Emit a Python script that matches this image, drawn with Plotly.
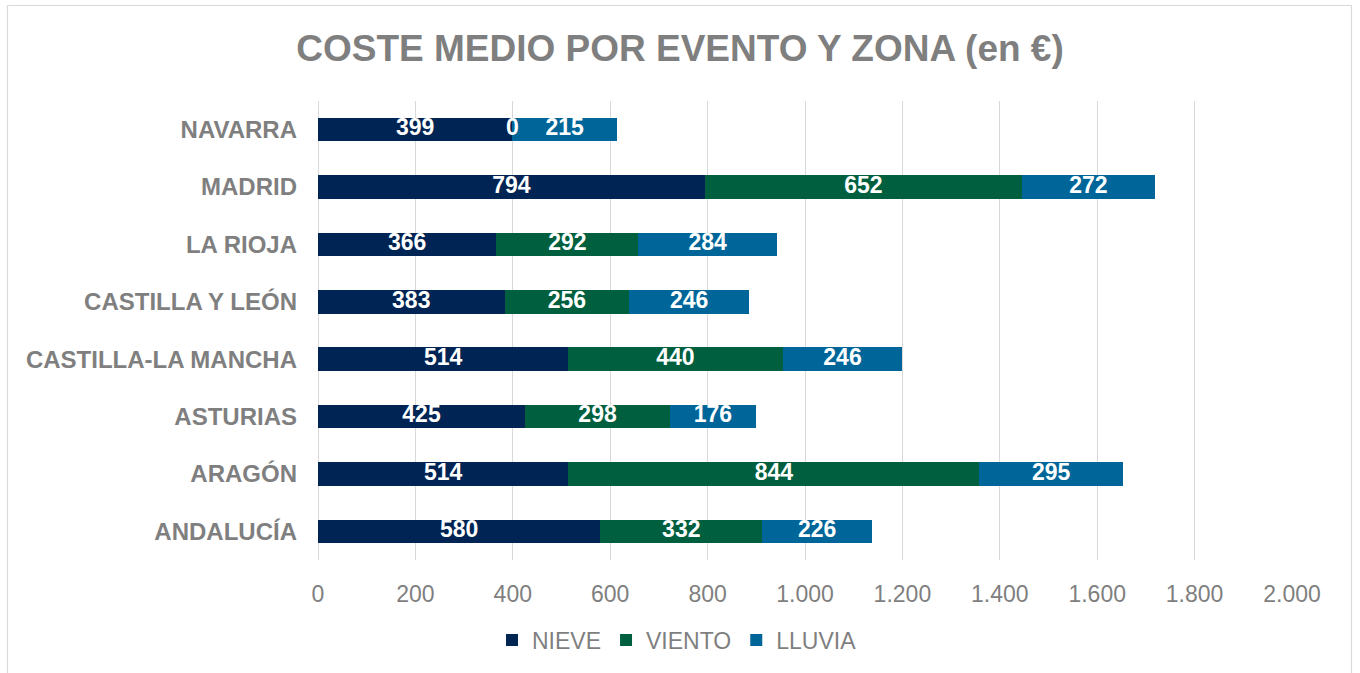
import plotly.graph_objects as go

categories = ["ANDALUCÍA", "ARAGÓN", "ASTURIAS", "CASTILLA-LA MANCHA",
              "CASTILLA Y LEÓN", "LA RIOJA", "MADRID", "NAVARRA"]
nieve = [580, 514, 425, 514, 383, 366, 794, 399]
viento = [332, 844, 298, 440, 256, 292, 652, 0]
lluvia = [226, 295, 176, 246, 246, 284, 272, 215]
x_ticks = [0, 200, 400, 600, 800, 1000, 1200, 1400, 1600, 1800, 2000]
x_tick_labels = ["0", "200", "400", "600", "800", "1.000", "1.200",
                 "1.400", "1.600", "1.800", "2.000"]

series = [("NIEVE", nieve, "#002453"),
          ("VIENTO", viento, "#005F3F"),
          ("LLUVIA", lluvia, "#006699")]

FONT = "Liberation Sans, Arial, sans-serif"
GREY = "#7f7f7f"

fig = go.Figure()
for name, vals, color in series:
    fig.add_trace(go.Bar(
        y=categories, x=vals, name=name, orientation="h",
        marker=dict(color=color, line=dict(width=0)),
        width=0.41,
    ))

# data labels at the middle of each segment
base = [0] * len(categories)
for name, vals, color in series:
    mids = [b + v / 2 for b, v in zip(base, vals)]
    fig.add_trace(go.Scatter(
        y=categories, x=mids, mode="text",
        text=[str(v) for v in vals],
        textposition="middle center",
        textfont=dict(family=FONT, size=23, color="white", weight="bold"),
        showlegend=False, hoverinfo="skip", cliponaxis=False,
    ))
    base = [b + v for b, v in zip(base, vals)]

W, H = 1360, 673
L, R, T, B = 318, 1292, 101, 560
pw, ph = R - L, B - T

def px(x):
    return (x - L) / pw

def py(y):
    return (B - y) / ph

fig.add_shape(type="rect", xref="paper", yref="paper",
              x0=px(7.5), x1=px(1351.5), y0=py(700), y1=py(5.5),
              line=dict(color="#d9d9d9", width=1.2), fillcolor="rgba(0,0,0,0)",
              layer="below")

fig.update_layout(
    width=W, height=H,
    margin=dict(l=L, r=W - R, t=T, b=H - B, pad=0),
    barmode="stack",
    paper_bgcolor="white", plot_bgcolor="white",
    title=dict(text="COSTE MEDIO POR EVENTO Y ZONA (en €)",
               x=0.5, xanchor="center", y=1 - 48 / H, yanchor="middle",
               font=dict(family=FONT, size=37, color=GREY, weight="bold")),
    xaxis=dict(range=[0, 2000], tickvals=x_ticks, ticktext=x_tick_labels,
               showgrid=True, gridcolor="#d9d9d9", gridwidth=1.3,
               zeroline=True, zerolinecolor="#d9d9d9", zerolinewidth=1.3,
               showline=False, ticks="", ticklabelstandoff=18,
               tickfont=dict(family=FONT, size=23, color=GREY)),
    yaxis=dict(range=[-0.5, 7.5], showgrid=False, zeroline=False,
               showline=False, ticks="", ticklabelstandoff=20,
               tickfont=dict(family=FONT, size=24, color=GREY, weight="bold")),
    legend=dict(orientation="h", x=px(677), xanchor="center",
                y=py(640), yanchor="middle", traceorder="normal",
                font=dict(family=FONT, size=23, color=GREY),
                itemwidth=30, tracegroupgap=0),
    showlegend=True,
)

fig.write_html("out.html",
               config={"displayModeBar": False},
               post_script="document.body.style.margin='0';"
                           "document.body.style.overflow='hidden';")
